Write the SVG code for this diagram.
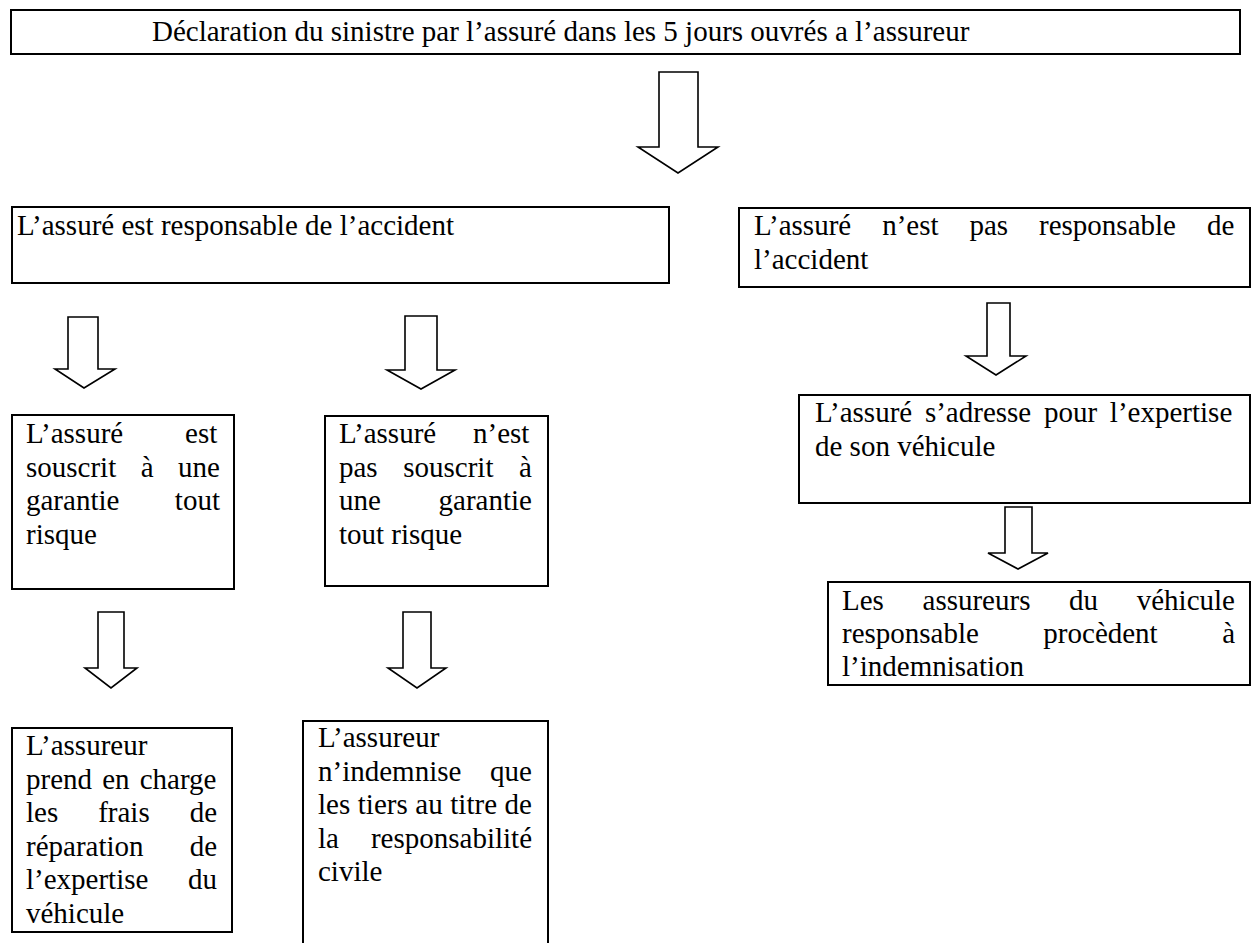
<svg xmlns="http://www.w3.org/2000/svg" width="1252" height="943" viewBox="0 0 1252 943">
<style>
rect.box{fill:#fff;stroke:#000;stroke-width:2}
.t{font-family:"Liberation Serif","Times New Roman",serif;font-size:29px;fill:#000}
polygon.arr{fill:#fff;stroke:#000;stroke-width:1.6;stroke-linejoin:miter}
</style>
<rect width="1252" height="943" fill="#fff"/>
<g id="connectors">
<polygon class="arr" points="659,72 698,72 698,147 718,147 678,173 638,147 659,147"/>
<polygon class="arr" points="68,317 98,317 98,369 115,369 84,388 55,369 68,369"/>
<polygon class="arr" points="405,316 437,316 437,370 455,370 421,389 387,370 405,370"/>
<polygon class="arr" points="98,612 124,612 124,668 137,668 111,688 85,668 98,668"/>
<polygon class="arr" points="403,612 431,612 431,668 446,668 417,688 388,668 403,668"/>
<polygon class="arr" points="987,303 1010,303 1010,356 1026,356 996,375 966,356 987,356"/>
<polygon class="arr" points="1005,507 1032,507 1032,553 1048,553 1018,569 988,553 1005,553"/>
</g>
<g id="declaration">
<rect class="box" x="11" y="10" width="1229" height="44"/>
<text class="t" x="152" y="41">Déclaration du sinistre par l’assuré dans les 5 jours ouvrés a l’assureur</text>
</g>
<g id="responsable">
<rect class="box" x="12" y="207" width="657" height="76"/>
<text class="t" x="17" y="235">L’assuré est responsable de l’accident</text>
</g>
<g id="non-responsable">
<rect class="box" x="739" y="208" width="511" height="79"/>
<text class="t" x="754" y="235" style="word-spacing:23.7px">L’assuré n’est pas responsable de</text>
<text class="t" x="754" y="268.5">l’accident</text>
</g>
<g id="tout-risque">
<rect class="box" x="12" y="415" width="222" height="174"/>
<text class="t" x="26" y="443" style="word-spacing:54.6px">L’assuré est</text>
<text class="t" x="26" y="476.5" style="word-spacing:17.25px">souscrit à une</text>
<text class="t" x="26" y="510" style="word-spacing:48.2px">garantie tout</text>
<text class="t" x="26" y="543.5">risque</text>
</g>
<g id="pas-tout-risque">
<rect class="box" x="325" y="416" width="223" height="170"/>
<text class="t" x="339" y="443" style="word-spacing:29.55px">L’assuré n’est</text>
<text class="t" x="339" y="476.5" style="word-spacing:18.35px">pas souscrit à</text>
<text class="t" x="339" y="510" style="word-spacing:50.45px">une garantie</text>
<text class="t" x="339" y="543.5">tout risque</text>
</g>
<g id="prise-en-charge">
<rect class="box" x="12" y="728" width="220" height="204"/>
<text class="t" x="26" y="755">L’assureur</text>
<text class="t" x="26" y="788.5" style="word-spacing:2.9px">prend en charge</text>
<text class="t" x="26" y="822" style="word-spacing:32.7px">les frais de</text>
<text class="t" x="26" y="855.5" style="word-spacing:38.85px">réparation de</text>
<text class="t" x="26" y="889" style="word-spacing:32.35px">l’expertise du</text>
<text class="t" x="26" y="922.5">véhicule</text>
</g>
<g id="tiers">
<rect class="box" x="303" y="721" width="245" height="230"/>
<text class="t" x="318" y="747">L’assureur</text>
<text class="t" x="318" y="780.5" style="word-spacing:21.45px">n’indemnise que</text>
<text class="t" x="318" y="814" style="word-spacing:0.35px">les tiers au titre de</text>
<text class="t" x="318" y="847.5" style="word-spacing:24.75px">la responsabilité</text>
<text class="t" x="318" y="881">civile</text>
</g>
<g id="expertise">
<rect class="box" x="799" y="395" width="451" height="108"/>
<text class="t" x="815" y="422" style="word-spacing:5.5px">L’assuré s’adresse pour l’expertise</text>
<text class="t" x="815" y="456">de son véhicule</text>
</g>
<g id="indemnisation">
<rect class="box" x="828" y="582" width="422" height="103"/>
<text class="t" x="842" y="610" style="word-spacing:31.4px">Les assureurs du véhicule</text>
<text class="t" x="842" y="643" style="word-spacing:57.2px">responsable procèdent à</text>
<text class="t" x="842" y="676">l’indemnisation</text>
</g>
</svg>
